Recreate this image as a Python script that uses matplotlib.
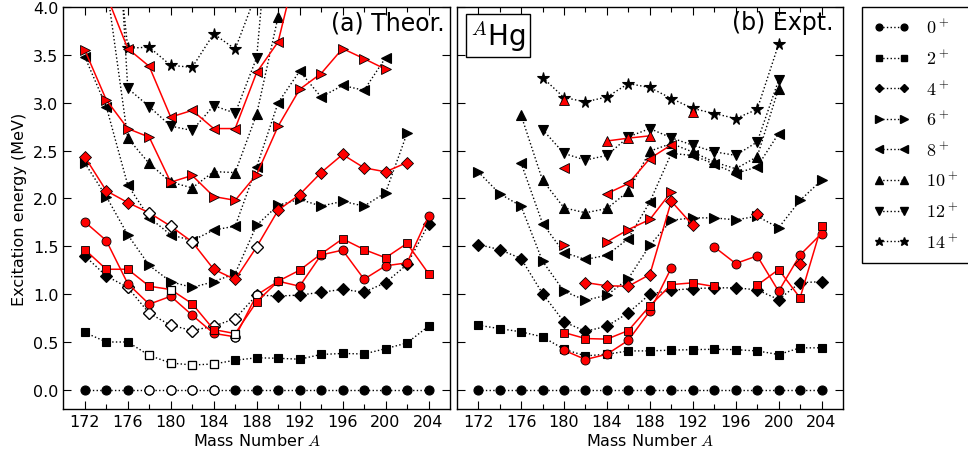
import numpy as np
import matplotlib
matplotlib.use("Agg")
import matplotlib.pyplot as plt
from matplotlib.lines import Line2D
from matplotlib.ticker import FormatStrFormatter, MultipleLocator

nan = np.nan
mass = np.arange(172, 206, 2)  # 172 ... 204

# ---------------- (a) Theory ----------------
th_0 = [0.0] * 17
th_2 = [0.60, 0.50, 0.50, 0.36, 0.28, 0.26, 0.27, 0.31, 0.335, 0.33, 0.32, 0.37, 0.38, 0.375, 0.43, 0.49, 0.665]
th_4 = [1.40, 1.19, 1.07, 0.80, 0.675, 0.62, 0.665, 0.745, 0.99, 0.98, 0.99, 1.02, 1.05, 1.02, 1.12, 1.31, 1.73]
th_6 = [2.37, 2.02, 1.62, 1.30, 1.13, 1.07, 1.13, 1.215, 1.72, 1.93, 1.99, 1.92, 1.97, 1.92, 2.06, 2.68, nan]
th_8 = [3.48, 2.96, 2.14, 1.80, 1.62, 1.56, 1.67, 1.71, 2.33, 3.00, 3.33, 3.06, 3.18, 3.13, 3.47, nan, nan]
th_10 = [nan, 4.25, 2.63, 2.365, 2.17, 2.11, 2.28, 2.27, 2.88, 3.90, nan, nan, nan, nan, nan, nan, nan]
th_12 = [nan, 7.0, 3.15, 2.96, 2.755, 2.71, 2.97, 2.89, 3.47, 6.0, nan, nan, nan, nan, nan, nan, nan]
th_14 = [nan, 5.7, 3.57, 3.58, 3.39, 3.37, 3.72, 3.56, 4.15, nan, nan, nan, nan, nan, nan, nan, nan]

thr_0 = [1.755, 1.56, 1.11, 0.895, 0.978, 0.78, 0.59, 0.554, 0.99, 1.135, 1.083, 1.41, 1.46, 1.156, 1.296, 1.327, 1.814]
thr_2 = [1.466, 1.26, 1.26, 1.083, 1.048, 0.90, 0.63, 0.588, 0.92, 1.135, 1.25, 1.42, 1.578, 1.466, 1.38, 1.53, 1.215]
thr_4 = [2.435, 2.08, 1.957, 1.85, 1.71, 1.546, 1.26, 1.153, 1.494, 1.877, 2.04, 2.27, 2.459, 2.32, 2.278, 2.375, nan]
thr_6 = [3.55, 3.03, 2.73, 2.64, 2.17, 2.24, 2.02, 1.98, 2.25, 2.755, 3.14, 3.305, 3.566, 3.46, 3.35, nan, nan]
thr_8 = [nan, 4.13, 3.566, 3.38, 2.85, 2.92, 2.73, 2.73, 3.316, 3.636, 4.55, nan, nan, nan, nan, nan, nan]

# hollow (open) markers in theory panel, by mass number
th_open = {"0": [178, 180, 182, 184], "2": [178, 180, 182, 184], "4": [176, 178, 180, 182, 184, 186]}
thr_open = {"0": [186, 188], "2": [180, 186], "4": [178, 180, 182, 188]}

# ---------------- (b) Experiment ----------------
ex_0 = [0.0] * 17
ex_2 = [0.675, 0.64, 0.606, 0.554, 0.424, 0.355, 0.372, 0.407, 0.407, 0.415, 0.42, 0.424, 0.42, 0.407, 0.369, 0.439, 0.439]
ex_4 = [1.518, 1.466, 1.372, 1.006, 0.71, 0.612, 0.665, 0.805, 1.0, 1.041, 1.058, 1.066, 1.066, 1.045, 0.944, 1.12, 1.13]
ex_6 = [2.278, 2.05, 1.919, 1.344, 1.03, 0.936, 0.989, 1.163, 1.51, 1.772, 1.797, 1.797, 1.776, 1.814, 1.693, 1.98, 2.19]
ex_8 = [nan, nan, 2.37, 1.738, 1.435, 1.362, 1.407, 1.581, 1.964, 2.47, 2.45, 2.36, 2.26, 2.33, 2.678, nan, nan]
ex_10 = [nan, nan, 2.87, 2.19, 1.902, 1.85, 1.895, 2.075, 2.494, 2.574, 2.485, 2.38, 2.31, 2.435, 3.148, nan, nan]
ex_12 = [nan, nan, nan, 2.72, 2.47, 2.40, 2.45, 2.643, 2.73, 2.633, 2.556, 2.487, 2.45, 2.59, 3.235, nan, nan]
ex_14 = [nan, nan, nan, 3.263, 3.054, 3.009, 3.06, 3.20, 3.159, 3.044, 2.94, 2.887, 2.835, 2.93, 3.611, nan, nan]

exr_0 = [nan, nan, nan, nan, 0.414, 0.317, 0.372, 0.518, 0.822, 1.275, nan, 1.494, 1.32, 1.40, 1.03, 1.41, 1.633]
exr_2 = [nan, nan, nan, nan, 0.599, 0.536, 0.53, 0.62, 0.878, 1.10, 1.118, 1.08, nan, 1.093, 1.257, 0.961, 1.714]
exr_4 = [nan, nan, nan, nan, nan, 1.121, 1.087, 1.083, 1.205, 1.971, 1.72, nan, nan, 1.842, nan, 1.31, nan]
exr_6 = [nan, nan, nan, nan, 1.511, nan, 1.546, 1.675, 1.78, 2.07, nan, nan, nan, nan, nan, nan, nan]
exr_8 = [nan, nan, nan, nan, 2.32, nan, 2.05, 2.156, 2.417, 2.56, nan, nan, nan, nan, nan, nan, nan]
exr_10 = [nan, nan, nan, nan, 3.026, nan, 2.60, 2.63, 2.654, nan, 2.90, nan, nan, nan, nan, nan, nan]

spins = ["0", "2", "4", "6", "8", "10", "12", "14"]
legend_labels = [r"$0^+$", r"$2^+$", r"$4^+$", r"$6^+$", r"$8^+$", r"$10^+$", r"$12^+$", r"$14^+$"]
marker_of = {"0": "o", "2": "s", "4": "D", "6": ">", "8": "<", "10": "^", "12": "v", "14": "*"}
size_of = {"0": 6.5, "2": 6.0, "4": 6.0, "6": 7.0, "8": 7.0, "10": 7.0, "12": 7.0, "14": 8.5}

plt.rcParams["mathtext.fontset"] = "cm"
plt.rcParams["font.family"] = ["DejaVu Sans"]

W, H = 968, 456
fig = plt.figure(figsize=(W / 100, H / 100), dpi=100)
top_px, bot_px = 8, 410
ax1 = fig.add_axes([63.3 / W, 1 - bot_px / H, (450 - 63.3) / W, (bot_px - top_px) / H])
ax2 = fig.add_axes([456.7 / W, 1 - bot_px / H, (843 - 456.7) / W, (bot_px - top_px) / H])


def draw(ax, black, red, open_b, open_r):
    for J in spins:
        mk, ms = marker_of[J], size_of[J]
        if J in black:
            y = np.array(black[J], dtype=float)
            ax.plot(mass, y, ls=":", color="k", lw=1.0, marker=mk, ms=ms,
                    mfc="k", mec="k", mew=0.8, zorder=3)
            if J in open_b:
                idx = np.isin(mass, open_b[J])
                ax.plot(mass[idx], y[idx], ls="none", marker=mk, ms=ms,
                        mfc="w", mec="k", mew=0.9, zorder=3)
        if J in red:
            y = np.array(red[J], dtype=float)
            ax.plot(mass, y, ls="-", color="#ff0000", lw=1.1, marker=mk, ms=ms,
                    mfc="#ff0000", mec="k", mew=0.6, zorder=4)
            if J in open_r:
                idx = np.isin(mass, open_r[J])
                ax.plot(mass[idx], y[idx], ls="none", marker=mk, ms=ms,
                        mfc="w", mec="k", mew=0.9, zorder=4)


draw(ax1,
     {"0": th_0, "2": th_2, "4": th_4, "6": th_6, "8": th_8, "10": th_10, "12": th_12, "14": th_14},
     {"0": thr_0, "2": thr_2, "4": thr_4, "6": thr_6, "8": thr_8},
     th_open, thr_open)
draw(ax2,
     {"0": ex_0, "2": ex_2, "4": ex_4, "6": ex_6, "8": ex_8, "10": ex_10, "12": ex_12, "14": ex_14},
     {"0": exr_0, "2": exr_2, "4": exr_4, "6": exr_6, "8": exr_8, "10": exr_10},
     {}, {})

for ax in (ax1, ax2):
    ax.set_xlim(170, 206)
    ax.set_ylim(-0.2, 4.0)
    ax.set_xticks(np.arange(172, 205, 4))
    ax.set_xticks(np.arange(174, 205, 4), minor=True)
    ax.yaxis.set_major_locator(MultipleLocator(0.5))
    ax.tick_params(which="both", direction="in", top=True, right=True, labelsize=11.5)
    ax.tick_params(which="major", length=6, width=0.8)
    ax.tick_params(which="minor", length=3.5, width=0.8)
    ax.set_xlabel(r"Mass Number $A$", fontsize=11.5, labelpad=2)
    for s in ax.spines.values():
        s.set_linewidth(1.0)

ax1.yaxis.set_major_formatter(FormatStrFormatter("%.1f"))
ax2.tick_params(labelleft=False)
ax1.set_ylabel("Excitation energy (MeV)", fontsize=11.5)

ax1.text(0.985, 0.992, "(a) Theor.", transform=ax1.transAxes, ha="right", va="top", fontsize=17)
ax2.text(0.975, 0.992, "(b) Expt.", transform=ax2.transAxes, ha="right", va="top", fontsize=17)
ax2.text(0.035, 0.972, r"$^{A}$Hg", transform=ax2.transAxes, ha="left", va="top", fontsize=20,
         bbox=dict(boxstyle="square,pad=0.15", fc="w", ec="k", lw=1.0))

handles = [Line2D([], [], ls=":", color="k", lw=1.0, marker=marker_of[J], ms=size_of[J] * 0.75,
                  mfc="k", mec="k") for J in spins]
fig.legend(handles, legend_labels, loc="upper left", bbox_to_anchor=(862 / W, 1 - 8 / H),
           frameon=True, fancybox=False, edgecolor="k", numpoints=2, handlelength=2.0,
           handletextpad=0.9, fontsize=13, labelspacing=0.66, borderpad=0.65,
           borderaxespad=0.0, framealpha=1.0)

fig.savefig("out.png", dpi=100)
